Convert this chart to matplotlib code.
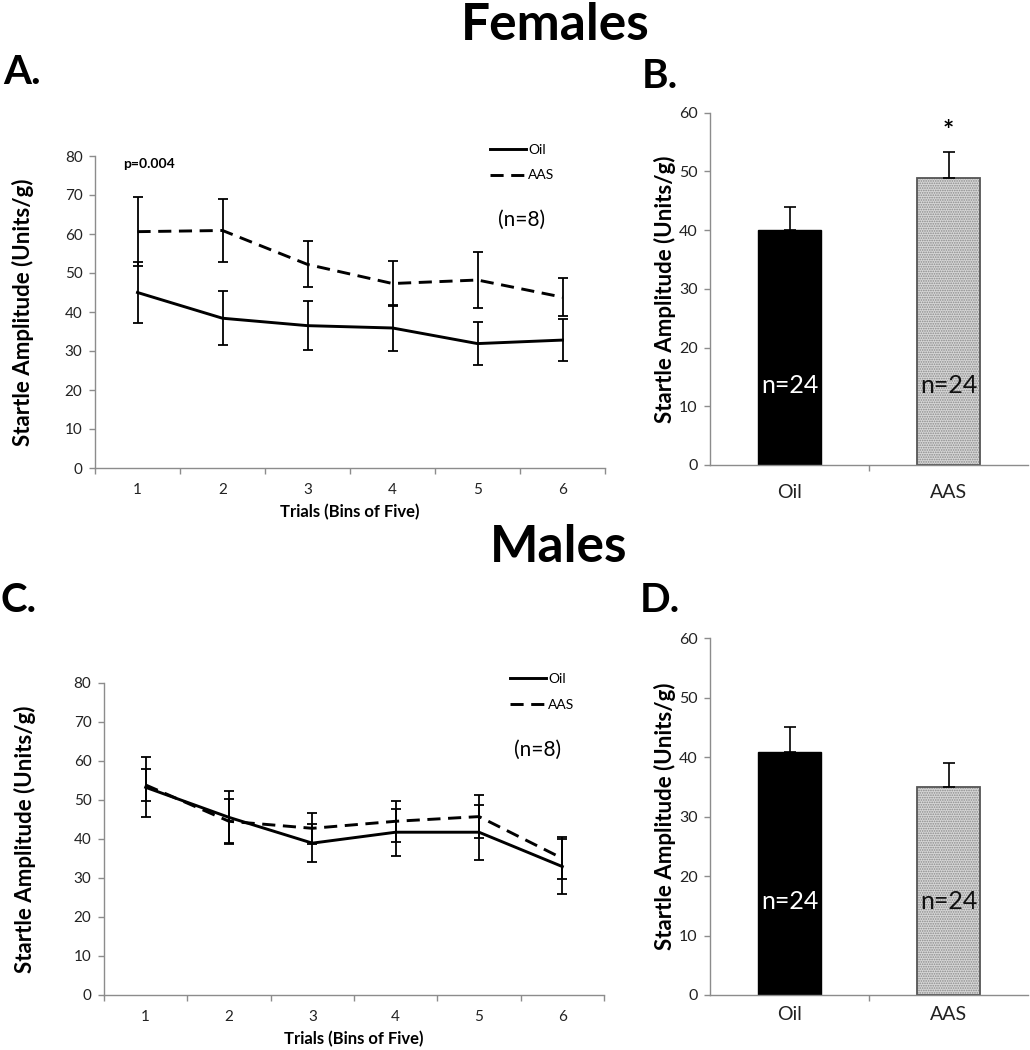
import matplotlib
matplotlib.use("Agg")
import matplotlib.pyplot as plt
import numpy as np

plt.rcParams['font.family'] = ['Lato', 'DejaVu Sans']
plt.rcParams['hatch.linewidth'] = 0.8

# ---------------- data ----------------
trials = [1, 2, 3, 4, 5, 6]
trial_labels = ["1", "2", "3", "4", "5", "6"]

fem_oil = [45.0, 38.4, 36.5, 35.9, 31.9, 32.8]
fem_oil_err = [7.9, 6.9, 6.3, 6.0, 5.5, 5.3]
fem_aas = [60.6, 60.9, 52.2, 47.3, 48.2, 43.8]
fem_aas_err = [8.8, 8.0, 5.9, 5.8, 7.2, 4.9]

male_oil = [53.2, 45.5, 38.9, 41.7, 41.7, 32.9]
male_oil_err = [7.7, 6.8, 4.9, 6.0, 7.0, 7.0]
male_aas = [53.8, 44.5, 42.7, 44.5, 45.7, 35.0]
male_aas_err = [4.0, 5.6, 4.0, 5.3, 5.5, 5.4]

groups = ["Oil", "AAS"]
fem_bar = [40.1, 48.8]
fem_bar_err = [3.8, 4.5]
male_bar = [40.8, 35.0]
male_bar_err = [4.2, 4.1]
n_bar = ["n=24", "n=24"]

W, H = 1030, 1050
fig = plt.figure(figsize=(W / 100, H / 100), dpi=100)


def px_axes(left, right, top, bottom):
    return fig.add_axes([left / W, 1 - bottom / H, (right - left) / W, (bottom - top) / H])


spine_c = '#8c8c8c'


def style(ax, ticksize, ypad):
    for s in ['top', 'right']:
        ax.spines[s].set_visible(False)
    for s in ['left', 'bottom']:
        ax.spines[s].set_color(spine_c)
        ax.spines[s].set_linewidth(1.0)
    ax.tick_params(axis='y', direction='out', length=4, width=1, color=spine_c,
                   labelsize=ticksize, pad=5, labelcolor='#222222')
    ax.set_ylabel("Startle Amplitude (Units/g)", fontsize=16, fontweight='bold', labelpad=ypad)


def line_panel(ax, oil, oil_e, aas, aas_e, n_xy, ypad):
    x = np.array(trials)
    lo = ax.errorbar(x, oil, yerr=oil_e, color='black', lw=2.1, elinewidth=1.3,
                     capsize=3.5, capthick=1.3, label="Oil")
    la = ax.errorbar(x, aas, yerr=aas_e, color='black', lw=2.1, elinewidth=1.3,
                     capsize=3.5, capthick=1.3, label="AAS")
    la[0].set_linestyle((0, (4.5, 2.6)))
    ax.set_xlim(0.5, 6.5)
    ax.set_ylim(0, 80)
    ax.set_yticks(np.arange(0, 81, 10))
    ax.set_xticks(trials)
    ax.set_xticklabels(trial_labels)
    ax.set_xticks(np.arange(0.5, 6.6, 1.0), minor=True)
    ax.tick_params(axis='x', which='major', length=0, labelsize=11, pad=11, labelcolor='#222222')
    ax.tick_params(axis='x', which='minor', length=4, width=1, color=spine_c, direction='out')
    style(ax, 11, ypad)
    ax.set_xlabel("Trials (Bins of Five)", fontsize=12, fontweight='bold', labelpad=5)
    ax.text(n_xy[0], n_xy[1], "(n=8)", transform=ax.transAxes, ha='center', va='center',
            fontsize=15)
    return lo, la


def bar_panel(ax, vals, errs, n_y, lab_pad, star=False):
    x = np.arange(len(groups))
    ax.bar(x[0], vals[0], width=0.4, color='black', edgecolor='black', lw=1)
    ax.bar(x[1], vals[1], width=0.4, color='#d6d6d6', edgecolor='#8a8a8a', hatch='.......', lw=0)
    ax.bar(x[1], vals[1], width=0.4, fill=False, edgecolor='#555555', lw=1.3)
    ax.errorbar(x, vals, yerr=[[0, 0], errs], fmt='none', ecolor='black', elinewidth=1.2,
                capsize=4, capthick=1.2)
    ax.set_xlim(-0.5, 1.5)
    ax.set_ylim(0, 60)
    ax.set_yticks(np.arange(0, 61, 10))
    ax.set_xticks(x)
    ax.set_xticklabels(groups)
    ax.set_xticks([0.5], minor=True)
    ax.tick_params(axis='x', which='major', length=0, labelsize=14, pad=lab_pad, labelcolor='#222222')
    ax.tick_params(axis='x', which='minor', length=4, width=1, color=spine_c, direction='out')
    style(ax, 11.5, 2)
    ax.text(x[0], n_y, n_bar[0], color='white', ha='center', va='center', fontsize=18)
    ax.text(x[1], n_y, n_bar[1], color='#111111', ha='center', va='center', fontsize=18)
    if star:
        ax.text(x[1], vals[1] + errs[1] + 3.5, "*", ha='center', va='center',
                fontsize=19, fontweight='bold')


# Panel A
axA = px_axes(95, 605, 156, 468)
lo, la = line_panel(axA, fem_oil, fem_oil_err, fem_aas, fem_aas_err, (0.837, 0.795), 22)
axA.text(0.055, 0.974, "p=0.004", transform=axA.transAxes, ha='left', va='center',
         fontsize=10, fontweight='bold')
axA.legend(handles=[lo[0], la[0]], labels=["Oil", "AAS"], loc='upper left',
           bbox_to_anchor=(0.775, 1.04), frameon=False, fontsize=10, handlelength=2.6,
           handletextpad=0.15, labelspacing=1.0, borderpad=0, borderaxespad=0)

# Panel B
axB = px_axes(710, 1028, 112.7, 465)
bar_panel(axB, fem_bar, fem_bar_err, 13.6, 14, star=True)

# Panel C
axC = px_axes(104, 604, 682.7, 995)
lo2, la2 = line_panel(axC, male_oil, male_oil_err, male_aas, male_aas_err, (0.868, 0.785), 27)
axC.legend(handles=[lo2[0], la2[0]], labels=["Oil", "AAS"], loc='upper left',
           bbox_to_anchor=(0.812, 1.03), frameon=False, fontsize=10, handlelength=2.6,
           handletextpad=0.15, labelspacing=1.0, borderpad=0, borderaxespad=0)

# Panel D
axD = px_axes(710, 1028, 638.3, 995)
bar_panel(axD, male_bar, male_bar_err, 15.7, 8)

# titles and panel letters
fig.text(555 / W, 1 - 25 / H, "Females", ha='center', va='center', fontsize=37, fontweight='bold')
fig.text(559 / W, 1 - 547 / H, "Males", ha='center', va='center', fontsize=37, fontweight='bold')
for lab, xx, yy in [("A.", 3, 73), ("B.", 642, 76), ("C.", 1, 601), ("D.", 640, 601)]:
    fig.text(xx / W, 1 - yy / H, lab, ha='left', va='center', fontsize=29, fontweight='bold')

fig.savefig("out.png", dpi=100)
